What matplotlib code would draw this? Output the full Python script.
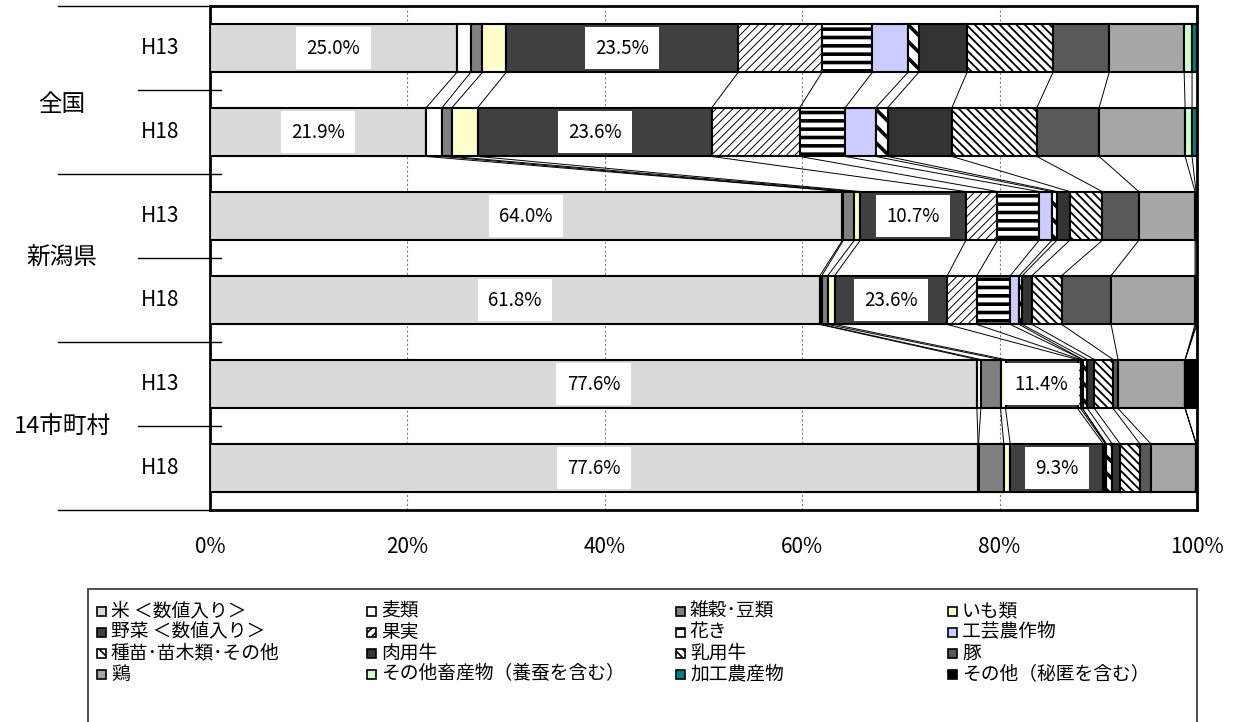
import matplotlib
matplotlib.use('Agg')
import matplotlib.pyplot as plt
from matplotlib.patches import Rectangle
import numpy as np

plt.rcParams['font.family'] = ['Noto Sans CJK JP', 'DejaVu Sans']
plt.rcParams['hatch.linewidth'] = 1.2

# rows top to bottom
groups = ['全国', '新潟県', '14市町村']
years = ['H13', 'H18', 'H13', 'H18', 'H13', 'H18']

# shares (%) per row
kome = [25.0, 21.9, 64.0, 61.8, 77.7, 77.7]
mugi = [1.4, 1.6, 0.1, 0.2, 0.4, 0.05]
zakkoku = [1.2, 1.0, 1.1, 0.6, 2.0, 2.55]
imo = [2.4, 2.6, 0.6, 0.7, 0.5, 0.65]
yasai = [23.5, 23.7, 10.7, 11.4, 7.3, 9.4]
kajitsu = [8.5, 8.9, 3.2, 3.0, 0.3, 0.2]
kaki = [5.1, 4.6, 4.2, 3.4, 0.2, 0.1]
kougei = [3.6, 3.1, 1.3, 0.9, 0.0, 0.0]
shubyo = [1.1, 1.2, 0.5, 0.3, 0.5, 0.6]
nikuyo = [4.9, 6.5, 1.3, 1.0, 0.7, 0.8]
nyuyo = [8.7, 8.6, 3.3, 3.0, 1.9, 2.0]
buta = [5.7, 6.3, 3.7, 5.0, 0.5, 1.1]
niwatori = [7.6, 8.7, 5.7, 8.5, 6.8, 4.6]
chikusan = [0.8, 0.7, 0.1, 0.1, 0.0, 0.0]
kakou = [0.5, 0.5, 0.1, 0.1, 0.0, 0.0]
sonota = [0.0, 0.0, 0.0, 0.0, 1.2, 0.1]

kome_labels = ['25.0%', '21.9%', '64.0%', '61.8%', '77.6%', '77.6%']
yasai_labels = ['23.5%', '23.6%', '10.7%', '23.6%', '11.4%', '9.3%']

names = ['米 ＜数値入り＞', '麦類', '雑穀･豆類', 'いも類',
         '野菜 ＜数値入り＞', '果実', '花き', '工芸農作物',
         '種苗･苗木類･その他', '肉用牛', '乳用牛', '豚',
         '鶏', 'その他畜産物（養蚕を含む）', '加工農産物', 'その他（秘匿を含む）']
values = [kome, mugi, zakkoku, imo, yasai, kajitsu, kaki, kougei,
          shubyo, nikuyo, nyuyo, buta, niwatori, chikusan, kakou, sonota]
colors = ['#d9d9d9', 'white', '#808080', '#ffffcc', '#404040', 'white', 'white', '#ccccff',
          'white', '#333333', 'white', '#595959', '#a6a6a6', '#ccffcc', '#008080', 'black']
hatches = [None, None, None, None, None, '////', '--', None,
           '\\\\', None, '\\\\\\\\', None, None, None, None, None]
hatch_lw = [1, 1, 1, 1, 1, 0.7, 2.6, 1, 2.6, 1, 1.3, 1, 1, 1, 1, 1]

data = np.array(values, dtype=float)
data = data / data.sum(axis=0) * 100
cum = np.cumsum(data, axis=0)
left = cum - data

fig = plt.figure(figsize=(12.49, 7.22), dpi=100)
W, H = 1249, 722
ax = fig.add_axes([210 / W, 1 - 510 / H, 987 / W, 504 / H])

y = np.arange(len(years))
h = 0.583
for k in range(len(names)):
    bars = ax.barh(y, data[k], left=left[k], height=h, color=colors[k],
                   edgecolor='black', linewidth=1.5, hatch=hatches[k], zorder=3)
    for b in bars:
        try:
            b.set_hatch_linewidth(hatch_lw[k])
        except AttributeError:
            pass

# series lines between neighbouring bars
for i in range(len(years) - 1):
    for k in range(len(names)):
        ax.plot([cum[k, i], cum[k, i + 1]], [i + h / 2, i + 1 - h / 2],
                color='black', lw=0.7, zorder=2)

# data labels
for i in range(len(years)):
    ax.text(data[0, i] / 2, i, kome_labels[i], ha='center', va='center', fontsize=13.5,
            zorder=5, bbox=dict(boxstyle='square,pad=0.55', fc='white', ec='none'))
    ax.text(left[4, i] + data[4, i] / 2, i, yasai_labels[i], ha='center', va='center',
            fontsize=13.5, zorder=5,
            bbox=dict(boxstyle='square,pad=0.55', fc='white', ec='none'))

ax.set_xlim(0, 100)
ax.set_ylim(len(years) - 0.5, -0.5)
ax.set_xticks([0, 20, 40, 60, 80, 100])
ax.set_xticklabels([f'{v}%' for v in [0, 20, 40, 60, 80, 100]], fontsize=15)
ax.tick_params(axis='x', length=0, pad=19)
ax.set_yticks([])
for v in [20, 40, 60, 80]:
    ax.axvline(v, color='#808080', lw=0.8, ls=(0, (2, 2)), zorder=1)
for s in ax.spines.values():
    s.set_linewidth(2.0)
    s.set_color('black')

# multi-level category labels
tr = ax.get_yaxis_transform()
for i, yr in enumerate(years):
    ax.text(-50 / 987, i, yr, transform=tr, ha='center', va='center', fontsize=15)
group_y = [0.67, 2.5, 4.51]
for g, gy in zip(groups, group_y):
    ax.text(-148 / 987, gy, g, transform=tr, ha='center', va='center', fontsize=17)
for b in [-0.5, 1.5, 3.5, 5.5]:
    x1 = 0.011 if b in (1.5, 3.5) else 0
    ax.plot([-152 / 987, x1], [b, b], transform=tr, color='black', lw=1.0, clip_on=False)
for b in [0.5, 2.5, 4.5]:
    ax.plot([-72 / 987, 0.011], [b, b], transform=tr, color='black', lw=1.0, clip_on=False)

# legend box (runs off the bottom edge)
fig.add_artist(Rectangle((88 / W, -0.05), (1197 - 88) / W, 0.05 + (1 - 589 / H),
                         transform=fig.transFigure, fc='none', ec='#404040', lw=1.3))
col_x = [97, 367, 676, 948]
row_y = [611, 632, 653, 674]
for n in range(len(names)):
    cx = col_x[n % 4]
    ry = row_y[n // 4]
    fig.add_artist(Rectangle((cx / W, 1 - (ry + 4.5) / H), 9 / W, 9 / H,
                             transform=fig.transFigure, fc=colors[n], ec='black',
                             lw=1.2, hatch=hatches[n]))
    fig.text((cx + 14) / W, 1 - ry / H, names[n], ha='left', va='center', fontsize=13.5)

fig.savefig('out.png', dpi=100)
